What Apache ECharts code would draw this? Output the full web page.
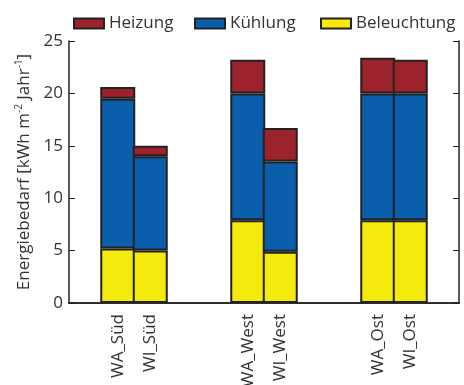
<!DOCTYPE html>
<html>
<head>
<meta charset="utf-8">
<script src="https://cdn.jsdelivr.net/npm/echarts@6/dist/echarts.min.js"></script>
<style>
  html, body { margin: 0; padding: 0; background: #fff; }
  #chart { width: 464px; height: 385px; }
</style>
</head>
<body>
<div id="chart"></div>
<script>
// Categories (empty strings leave gaps between the orientation groups)
const categories = ['', 'WA_Süd', 'WI_Süd', '', '', 'WA_West', 'WI_West', '', '', 'WA_Ost', 'WI_Ost', ''];

// Energy demand per use, kWh/(m² a)
const beleuchtung = [null, 5.2, 5.0, null, null, 7.9, 4.9, null, null, 7.9, 7.9, null];
const kuehlung    = [null, 14.3, 9.0, null, null, 12.1, 8.6, null, null, 12.1, 12.1, null];
const heizung     = [null, 1.1, 1.0, null, null, 3.2, 3.2, null, null, 3.4, 3.2, null];

const yTicks = [0, 5, 10, 15, 20, 25];

const FONT = '"Open Sans", "Noto Sans", sans-serif';
const AXIS = '#222';
const TEXT = '#333';
const showTick = (i) => categories[i] !== '';

const chart = echarts.init(document.getElementById('chart'));

// Bars slightly wider than a band so neighbouring borders merge into one line
function bar(name, data, color) {
  return {
    name, type: 'bar', stack: 'e', data,
    barWidth: 35, barGap: '0%',
    itemStyle: { color, borderColor: '#222', borderWidth: 2 }
  };
}

function legendItem(name, left) {
  return {
    data: [name], left, top: 10,
    itemWidth: 30, itemHeight: 10,
    icon: 'rect',
    textStyle: { fontSize: 17, color: TEXT, fontFamily: FONT }
  };
}

chart.setOption({
  animation: false,
  textStyle: { fontFamily: FONT },
  legend: [
    legendItem('Heizung', 68),
    legendItem('Kühlung', 189),
    legendItem('Beleuchtung', 315)
  ],
  grid: { left: 69, right: 5, top: 41, bottom: 82, outerBoundsMode: 'none', containLabel: false },
  xAxis: [{
    type: 'category', data: categories, position: 'bottom', z: 10,
    boundaryGap: true,
    axisLine: { lineStyle: { color: AXIS, width: 1.5 } },
    axisTick: { inside: true, alignWithLabel: true, length: 6, interval: showTick, lineStyle: { color: AXIS } },
    axisLabel: { rotate: 90, interval: 0, fontSize: 17, color: TEXT, margin: 11, fontFamily: FONT }
  }, {
    type: 'category', data: categories, position: 'top', z: 10,
    boundaryGap: true,
    axisLine: { lineStyle: { color: AXIS, width: 1.5 } },
    axisTick: { inside: true, alignWithLabel: true, length: 6, interval: showTick, lineStyle: { color: AXIS } },
    axisLabel: { show: false }
  }],
  yAxis: [{
    type: 'value', min: yTicks[0], max: yTicks[yTicks.length - 1], interval: 5,
    position: 'left',
    name: '{a|Energiebedarf [kWh m}{s|-2}{a| Jahr}{s|-1}{a|]}',
    nameLocation: 'middle', nameGap: 35, nameRotate: 90,
    nameTextStyle: {
      rich: {
        a: { fontSize: 17, color: TEXT, fontFamily: FONT, lineHeight: 20 },
        s: { fontSize: 10, color: TEXT, fontFamily: FONT, verticalAlign: 'top', lineHeight: 20, padding: [0, 0, 8, 0] }
      }
    },
    axisLine: { show: true, lineStyle: { color: AXIS, width: 1.5 } },
    axisTick: { show: true, inside: true, length: 6, lineStyle: { color: AXIS } },
    axisLabel: { fontSize: 17, color: TEXT, margin: 6, fontFamily: FONT },
    splitLine: { show: false }
  }, {
    type: 'value', min: yTicks[0], max: yTicks[yTicks.length - 1], interval: 5,
    position: 'right',
    axisLine: { show: true, lineStyle: { color: AXIS, width: 1.5 } },
    axisTick: { show: true, inside: true, length: 6, lineStyle: { color: AXIS } },
    axisLabel: { show: false },
    splitLine: { show: false }
  }],
  series: [
    bar('Beleuchtung', beleuchtung, '#f4ea0c'),
    bar('Kühlung', kuehlung, '#0b5eab'),
    bar('Heizung', heizung, '#9c232b')
  ]
});
</script>
</body>
</html>
